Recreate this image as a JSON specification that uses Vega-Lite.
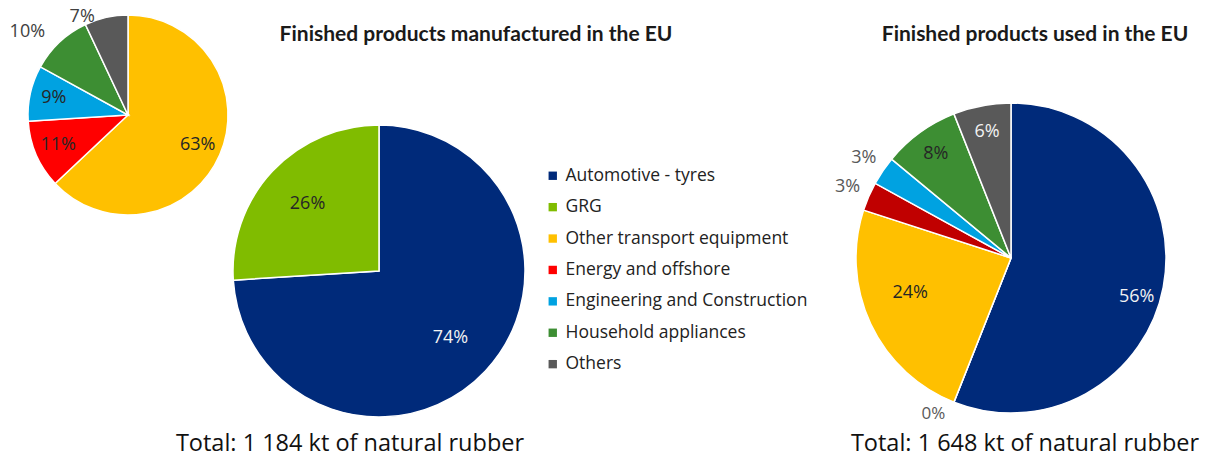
{
  "$schema": "https://vega.github.io/schema/vega-lite/v6.json",
  "width": 1212,
  "height": 458,
  "autosize": {"type": "none"},
  "padding": 0,
  "background": "white",
  "config": {"view": {"stroke": null}, "font": "Open Sans"},
  "datasets": {
    "detail": [
      {"category": "Other transport equipment", "share": 0.63, "rank": 1},
      {"category": "Energy and offshore", "share": 0.11, "rank": 2},
      {"category": "Engineering and Construction", "share": 0.09, "rank": 3},
      {"category": "Household appliances", "share": 0.10, "rank": 4},
      {"category": "Others", "share": 0.07, "rank": 5}
    ],
    "manufactured": [
      {"category": "Automotive - tyres", "share": 0.74, "rank": 1},
      {"category": "GRG", "share": 0.26, "rank": 2}
    ],
    "used": [
      {"category": "Automotive - tyres", "share": 0.56, "rank": 1},
      {"category": "GRG", "share": 0.0, "rank": 2},
      {"category": "Other transport equipment", "share": 0.24, "rank": 3},
      {"category": "Energy and offshore", "share": 0.03, "rank": 4},
      {"category": "Engineering and Construction", "share": 0.03, "rank": 5},
      {"category": "Household appliances", "share": 0.08, "rank": 6},
      {"category": "Others", "share": 0.06, "rank": 7}
    ]
  },
  "layer": [
    {
      "data": {"values": [{}]},
      "mark": {"type": "rule", "x": 153, "y": 22, "x2": 378, "y2": 125, "color": "#2F4B8C", "strokeWidth": 1.2},
      "encoding": {}
    },
    {
      "data": {"values": [{}]},
      "mark": {"type": "rule", "x": 97, "y": 211, "x2": 232, "y2": 278, "color": "#2F4B8C", "strokeWidth": 1.2},
      "encoding": {}
    },
    {
      "data": {"values": [{}]},
      "mark": {"type": "rule", "x": 45, "y": 35, "x2": 58, "y2": 40, "color": "#A6A6A6", "strokeWidth": 1},
      "encoding": {}
    },
    {
      "data": {"values": [{}]},
      "mark": {"type": "rule", "x": 836, "y": 194, "x2": 866, "y2": 194, "color": "#A6A6A6", "strokeWidth": 1},
      "encoding": {}
    },
    {
      "data": {"name": "detail"},
      "mark": {"type": "arc", "x": 128, "y": 115, "outerRadius": 100, "stroke": "white", "strokeWidth": 1.5},
      "encoding": {
        "theta": {"field": "share", "type": "quantitative", "stack": true, "scale": {"domain": [0, 1]}},
        "order": {"field": "rank", "type": "quantitative"},
        "color": {
          "field": "category", "type": "nominal",
          "scale": {
            "domain": ["Automotive - tyres", "GRG", "Other transport equipment", "Energy and offshore", "Engineering and Construction", "Household appliances", "Others"],
            "range": ["#002A7A", "#80BC00", "#FFC000", "#FF0000", "#00A2E1", "#3D8E33", "#595959"]
          },
          "legend": {
            "title": null, "orient": "none", "legendX": 544, "legendY": 167,
            "symbolType": "square", "symbolSize": 70, "symbolStrokeWidth": 0,
            "labelFontSize": 17.5, "labelFont": "Open Sans", "labelColor": "#222222",
            "rowPadding": 12.4, "labelOffset": 4, "labelLimit": 400
          }
        }
      }
    },
    {
      "data": {"name": "manufactured"},
      "mark": {"type": "arc", "x": 379, "y": 271, "outerRadius": 146, "stroke": "white", "strokeWidth": 1.5},
      "encoding": {
        "theta": {"field": "share", "type": "quantitative", "stack": true, "scale": {"domain": [0, 1]}},
        "order": {"field": "rank", "type": "quantitative"},
        "color": {"field": "category", "type": "nominal"}
      }
    },
    {
      "data": {"name": "used"},
      "mark": {"type": "arc", "x": 1011, "y": 258, "outerRadius": 155, "stroke": "white", "strokeWidth": 1.5},
      "encoding": {
        "theta": {"field": "share", "type": "quantitative", "stack": true, "scale": {"domain": [0, 1]}},
        "order": {"field": "rank", "type": "quantitative"},
        "color": {
          "condition": {"test": "datum.category === 'Energy and offshore'", "value": "#C00000"},
          "field": "category", "type": "nominal"
        }
      }
    },
    {
      "data": {"name": "detail"},
      "mark": {"type": "text", "x": 128, "y": 115, "radius": 76, "fontSize": 18, "color": "#262626"},
      "encoding": {
        "theta": {"field": "share", "type": "quantitative", "stack": true, "scale": {"domain": [0, 1]}},
        "order": {"field": "rank", "type": "quantitative"},
        "text": {"condition": {"test": "datum.rank <= 3", "field": "share", "type": "quantitative", "format": ".0%"}, "value": ""}
      }
    },
    {
      "data": {"name": "detail"},
      "mark": {"type": "text", "x": 128, "y": 115, "radius": 131, "dx": -11, "dy": 12, "fontSize": 18, "color": "#404040"},
      "encoding": {
        "theta": {"field": "share", "type": "quantitative", "stack": true, "scale": {"domain": [0, 1]}},
        "order": {"field": "rank", "type": "quantitative"},
        "text": {"condition": {"test": "datum.rank === 4", "field": "share", "type": "quantitative", "format": ".0%"}, "value": ""}
      }
    },
    {
      "data": {"name": "detail"},
      "mark": {"type": "text", "x": 128, "y": 115, "radius": 100, "dx": -24, "fontSize": 18, "color": "#404040"},
      "encoding": {
        "theta": {"field": "share", "type": "quantitative", "stack": true, "scale": {"domain": [0, 1]}},
        "order": {"field": "rank", "type": "quantitative"},
        "text": {"condition": {"test": "datum.rank === 5", "field": "share", "type": "quantitative", "format": ".0%"}, "value": ""}
      }
    },
    {
      "data": {"name": "manufactured"},
      "mark": {"type": "text", "x": 379, "y": 271, "radius": 98, "fontSize": 18},
      "encoding": {
        "theta": {"field": "share", "type": "quantitative", "stack": true, "scale": {"domain": [0, 1]}},
        "order": {"field": "rank", "type": "quantitative"},
        "text": {"field": "share", "type": "quantitative", "format": ".0%"},
        "color": {"condition": {"test": "datum.rank === 1", "value": "#F2F2F2"}, "value": "#262626"}
      }
    },
    {
      "data": {"name": "used"},
      "mark": {"type": "text", "x": 1011, "y": 258, "radius": 128, "fontSize": 18},
      "encoding": {
        "theta": {"field": "share", "type": "quantitative", "stack": true, "scale": {"domain": [0, 1]}},
        "order": {"field": "rank", "type": "quantitative"},
        "text": {"condition": {"test": "datum.rank >= 6", "field": "share", "type": "quantitative", "format": ".0%"}, "value": ""},
        "color": {"condition": {"test": "datum.rank === 7", "value": "#F2F2F2"}, "value": "#262626"}
      }
    },
    {
      "data": {"name": "used"},
      "mark": {"type": "text", "x": 1011, "y": 258, "radius": 128, "dy": 15, "fontSize": 18, "color": "#F2F2F2"},
      "encoding": {
        "theta": {"field": "share", "type": "quantitative", "stack": true, "scale": {"domain": [0, 1]}},
        "order": {"field": "rank", "type": "quantitative"},
        "text": {"condition": {"test": "datum.rank === 1", "field": "share", "type": "quantitative", "format": ".0%"}, "value": ""}
      }
    },
    {
      "data": {"name": "used"},
      "mark": {"type": "text", "x": 1011, "y": 258, "radius": 107, "dx": -4, "dy": -11, "fontSize": 18, "color": "#262626"},
      "encoding": {
        "theta": {"field": "share", "type": "quantitative", "stack": true, "scale": {"domain": [0, 1]}},
        "order": {"field": "rank", "type": "quantitative"},
        "text": {"condition": {"test": "datum.rank === 3", "field": "share", "type": "quantitative", "format": ".0%"}, "value": ""}
      }
    },
    {
      "data": {"name": "used"},
      "mark": {"type": "text", "x": 1011, "y": 258, "radius": 178, "fontSize": 18, "color": "#595959"},
      "encoding": {
        "theta": {"field": "share", "type": "quantitative", "stack": true, "scale": {"domain": [0, 1]}},
        "order": {"field": "rank", "type": "quantitative"},
        "text": {"condition": {"test": "datum.rank === 4 || datum.rank === 5", "field": "share", "type": "quantitative", "format": ".0%"}, "value": ""}
      }
    },
    {
      "data": {"name": "used"},
      "mark": {"type": "text", "x": 1011, "y": 258, "radius": 178, "dx": -12, "dy": -10, "fontSize": 17, "color": "#595959"},
      "encoding": {
        "theta": {"field": "share", "type": "quantitative", "stack": true, "scale": {"domain": [0, 1]}},
        "order": {"field": "rank", "type": "quantitative"},
        "text": {"condition": {"test": "datum.rank === 2", "field": "share", "type": "quantitative", "format": ".0%"}, "value": ""}
      }
    },
    {
      "data": {"values": [{}]},
      "mark": {"type": "text", "x": 476, "y": 41, "text": "Finished products manufactured in the EU", "font": "Lato", "fontWeight": "bold", "fontSize": 21, "align": "center", "baseline": "alphabetic", "color": "#1A1A1A"},
      "encoding": {}
    },
    {
      "data": {"values": [{}]},
      "mark": {"type": "text", "x": 1035, "y": 41, "text": "Finished products used in the EU", "font": "Lato", "fontWeight": "bold", "fontSize": 21, "align": "center", "baseline": "alphabetic", "color": "#1A1A1A"},
      "encoding": {}
    },
    {
      "data": {"values": [{}]},
      "mark": {"type": "text", "x": 350, "y": 451, "text": "Total: 1 184 kt of natural rubber", "fontSize": 23.5, "align": "center", "baseline": "alphabetic", "color": "#111111"},
      "encoding": {}
    },
    {
      "data": {"values": [{}]},
      "mark": {"type": "text", "x": 1025, "y": 451, "text": "Total: 1 648 kt of natural rubber", "fontSize": 23.5, "align": "center", "baseline": "alphabetic", "color": "#111111"},
      "encoding": {}
    }
  ]
}
